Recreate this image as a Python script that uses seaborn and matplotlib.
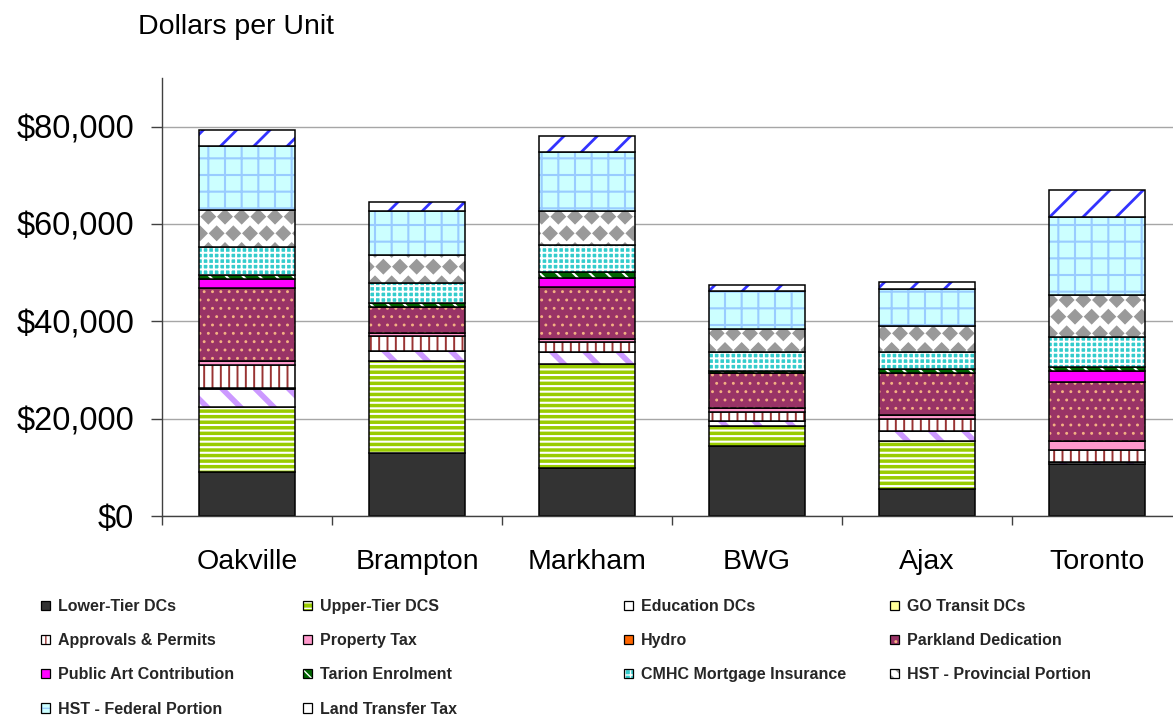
import numpy as np
import matplotlib
matplotlib.use("Agg")
import matplotlib.pyplot as plt
import matplotlib.hatch as mhatch
from matplotlib.path import Path
from matplotlib.patches import Patch
from matplotlib.ticker import FixedLocator
import seaborn as sns

# ---------------------------------------------------------------- data
cities = ["Oakville", "Brampton", "Markham", "BWG", "Ajax", "Toronto"]

lower_tier_dcs = [9100, 13000, 9950, 14400, 5500, 10600]
upper_tier_dcs = [13400, 18750, 21250, 4150, 10000, 0]
education_dcs = [3550, 2250, 2400, 1050, 2050, 400]
go_transit_dcs = [350, 0, 0, 0, 0, 0]
approvals_permits = [4650, 2900, 2100, 1700, 2400, 2550]
property_tax = [900, 700, 700, 800, 800, 1850]
hydro = [0, 0, 0, 0, 0, 0]
parkland_dedication = [14900, 5300, 10650, 7200, 8600, 12200]
public_art = [1850, 0, 1900, 0, 0, 2200]
tarion_enrolment = [900, 950, 1100, 550, 800, 900]
cmhc_insurance = [5700, 4000, 5550, 3850, 3550, 6050]
hst_provincial = [7500, 5800, 7100, 4750, 5400, 8700]
hst_federal = [13300, 9100, 12100, 7750, 7550, 15900]
land_transfer_tax = [3150, 1850, 3200, 1350, 1400, 5550]

series_labels = [
    "Lower-Tier DCs", "Upper-Tier DCS", "Education DCs", "GO Transit DCs",
    "Approvals & Permits", "Property Tax", "Hydro", "Parkland Dedication",
    "Public Art Contribution", "Tarion Enrolment", "CMHC Mortgage Insurance",
    "HST - Provincial Portion", "HST - Federal Portion", "Land Transfer Tax",
]
series_values = [
    lower_tier_dcs, upper_tier_dcs, education_dcs, go_transit_dcs,
    approvals_permits, property_tax, hydro, parkland_dedication,
    public_art, tarion_enrolment, cmhc_insurance,
    hst_provincial, hst_federal, land_transfer_tax,
]

y_ticks = [0, 20000, 40000, 60000, 80000]
y_tick_labels = ["$0", "$20,000", "$40,000", "$60,000", "$80,000"]
title_text = "Dollars per Unit"

# ---------------------------------------------------------------- styles
# label -> (face colour, hatch, hatch colour, hatch line width)
styles = {
    "Lower-Tier DCs": ("#333333", None, None, 1.0),
    "Upper-Tier DCS": ("#99CC00", "---", "#FFFFFF", 1.5),
    "Education DCs": ("#FFFFFF", "\\", "#CC99FF", 4.0),
    "GO Transit DCs": ("#FFFF99", None, None, 1.0),
    "Approvals & Permits": ("#FFFFFF", "||", "#993333", 1.4),
    "Property Tax": ("#FF99CC", None, None, 1.0),
    "Hydro": ("#FF6600", None, None, 1.0),
    "Parkland Dedication": ("#993366", "..", "#F4B183", 0.9),
    "Public Art Contribution": ("#FF00FF", None, None, 1.0),
    "Tarion Enrolment": ("#006600", "\\\\", "#FFFFFF", 1.5),
    "CMHC Mortgage Insurance": ("#33CCCC", "+++", "#FFFFFF", 1.4),
    "HST - Provincial Portion": ("#FFFFFF", "O", "#999999", 1.0),
    "HST - Federal Portion": ("#CCFFFF", "+", "#99CCFF", 1.5),
    "Land Transfer Tax": ("#FFFFFF", "/", "#3333FF", 2.0),
}


# Diamond fill pattern (used in place of the large-circle hatch "O")
class DiamondHatch(mhatch.Shapes):
    size = 0.42
    filled = True

    def __init__(self, hatch, density):
        self.num_rows = hatch.count("O") * density
        self.shape_vertices = np.array(
            [[0.0, -1.0], [1.0, 0.0], [0.0, 1.0], [-1.0, 0.0], [0.0, -1.0]])
        self.shape_codes = np.array(
            [Path.MOVETO, Path.LINETO, Path.LINETO, Path.LINETO, Path.CLOSEPOLY],
            dtype=Path.code_type)
        super().__init__(hatch, density)


mhatch._hatch_types = [DiamondHatch if t is mhatch.LargeCircles else t
                       for t in mhatch._hatch_types]

# ---------------------------------------------------------------- figure
sns.set_theme(style="white")
plt.rcParams["font.family"] = ["Liberation Sans", "DejaVu Sans"]

fig = plt.figure(figsize=(11.73, 7.17), dpi=100)
W, H = 1173.0, 717.0
ax = fig.add_axes([162 / W, (H - 516) / H, 1020 / W, (516 - 78) / H])

bar_width = 0.565
bottom = np.zeros(len(cities))
for label, vals in zip(series_labels, series_values):
    vals = np.asarray(vals, dtype=float)
    face, hatch, hcol, hlw = styles[label]
    n0 = len(ax.patches)
    with plt.rc_context({"hatch.linewidth": hlw}):
        sns.barplot(x=cities, y=vals, bottom=bottom, ax=ax, color=face,
                    saturation=1, width=bar_width, errorbar=None,
                    edgecolor=hcol if hatch else face, linewidth=0,
                    hatch=hatch)
    for p in ax.patches[n0:]:
        if hasattr(p, "set_hatch_linewidth"):
            p.set_hatch_linewidth(hlw)
    # black outline of each segment
    sns.barplot(x=cities, y=vals, bottom=bottom, ax=ax, color="black",
                fill=False, width=bar_width, errorbar=None, linewidth=1.1)
    bottom = bottom + vals

# ---------------------------------------------------------------- axes
ax.set_xlim(-0.5, len(cities) - 0.5)
ax.set_ylim(0, 90000)
ax.set_xlabel("")
ax.set_ylabel("")
ax.yaxis.set_major_locator(FixedLocator(y_ticks))
ax.set_yticklabels(y_tick_labels)
ax.set_xticks(range(len(cities)))
ax.set_xticklabels(cities)
ax.set_xticks(np.arange(-0.5, len(cities), 1.0), minor=True)

ax.grid(axis="y", color="#A6A6A6", linewidth=1.0)
ax.grid(axis="x", visible=False)
ax.set_axisbelow(True)

for side in ("top", "right"):
    ax.spines[side].set_visible(False)
for side in ("left", "bottom"):
    ax.spines[side].set_color("#404040")
    ax.spines[side].set_linewidth(1.0)

ax.tick_params(axis="y", which="major", left=True, length=8, width=1.0,
               color="#404040", pad=12, labelsize=23.5, labelcolor="black")
ax.tick_params(axis="x", which="major", bottom=False, length=0, pad=24,
               labelsize=20.5, labelcolor="black")
ax.tick_params(axis="x", which="minor", bottom=True, length=6.5, width=1.0,
               color="#404040")

fig.text(138 / W, 1 - 27 / H, title_text, fontsize=20.5, ha="left",
         va="center", color="black")

# ---------------------------------------------------------------- legend
def legend_handle(label):
    face, hatch, hcol, hlw = styles[label]
    with plt.rc_context({"hatch.linewidth": min(hlw, 1.2)}):
        fill = Patch(facecolor=face, edgecolor=hcol if hatch else face,
                     hatch=hatch, linewidth=0)
    outline = Patch(facecolor="none", edgecolor="black", linewidth=0.9)
    return (fill, outline)


legend_columns = [
    ["Lower-Tier DCs", "Approvals & Permits", "Public Art Contribution",
     "HST - Federal Portion"],
    ["Upper-Tier DCS", "Property Tax", "Tarion Enrolment", "Land Transfer Tax"],
    ["Education DCs", "Hydro", "CMHC Mortgage Insurance"],
    ["GO Transit DCs", "Parkland Dedication", "HST - Provincial Portion"],
]
legend_x = [41, 303, 624, 890]
for col, x in zip(legend_columns, legend_x):
    fig.legend([legend_handle(l) for l in col], col, loc="upper left",
               bbox_to_anchor=(x / W, 1 - 599 / H), frameon=False,
               borderpad=0, borderaxespad=0, handlelength=0.55,
               handleheight=0.55, handletextpad=0.5, labelspacing=1.2,
               prop={"weight": "bold", "size": 11.5})

fig.savefig("out.png", dpi=100)
